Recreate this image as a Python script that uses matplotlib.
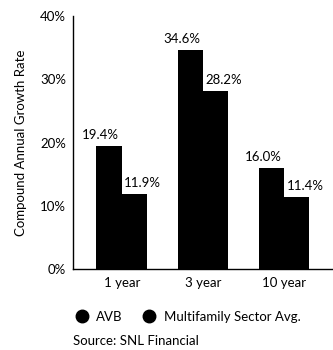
import matplotlib
matplotlib.use('Agg')
import matplotlib.pyplot as plt
from matplotlib.lines import Line2D
import numpy as np

periods = ['1 year', '3 year', '10 year']
avb = [19.4, 34.6, 16.0]
sector = [11.9, 28.2, 11.4]
series_names = ['AVB', 'Multifamily Sector Avg.']
yticks = [0, 10, 20, 30, 40]

plt.rcParams['font.family'] = ['Lato', 'DejaVu Sans']
plt.rcParams['font.size'] = 9.5

fig = plt.figure(figsize=(3.33, 3.5), dpi=100)
ax = fig.add_axes([0.219, 0.231, 0.781, 0.723])

x = np.arange(len(periods))
w = 0.31
ax.bar(x - w / 2, avb, w, color='black')
ax.bar(x + w / 2, sector, w, color='black')

# value labels: AVB right-aligned over its bar, sector left-aligned
for i in range(len(periods)):
    ax.text(x[i] - 0.03, avb[i] + 0.8, '%.1f%%' % avb[i], ha='right', va='bottom')
    ax.text(x[i] + 0.03, sector[i] + 0.8, '%.1f%%' % sector[i], ha='left', va='bottom')

ax.set_xlim(-0.6, 2.6)
ax.set_ylim(0, 40)
ax.set_yticks(yticks)
ax.set_yticklabels(['%d%%' % t for t in yticks])
ax.set_xticks(x)
ax.set_xticklabels(periods)
ax.tick_params(length=0)
ax.tick_params(axis='y', pad=5)
ax.tick_params(axis='x', pad=6)
ax.spines['top'].set_visible(False)
ax.spines['right'].set_visible(False)
ax.spines['left'].set_linewidth(1.0)
ax.spines['bottom'].set_linewidth(1.0)
ax.set_ylabel('Compound Annual Growth Rate', fontsize=9.5, labelpad=9)

handles = [Line2D([], [], marker='o', color='black', linestyle='none', markersize=9)
           for _ in series_names]
fig.legend(handles, series_names, loc='center left', bbox_to_anchor=(0.17, 0.094),
           ncol=2, frameon=False, handletextpad=0.1, columnspacing=1.0)
fig.text(0.219, 0.026, 'Source: SNL Financial', ha='left', va='center')

fig.savefig('out.png', dpi=100)
